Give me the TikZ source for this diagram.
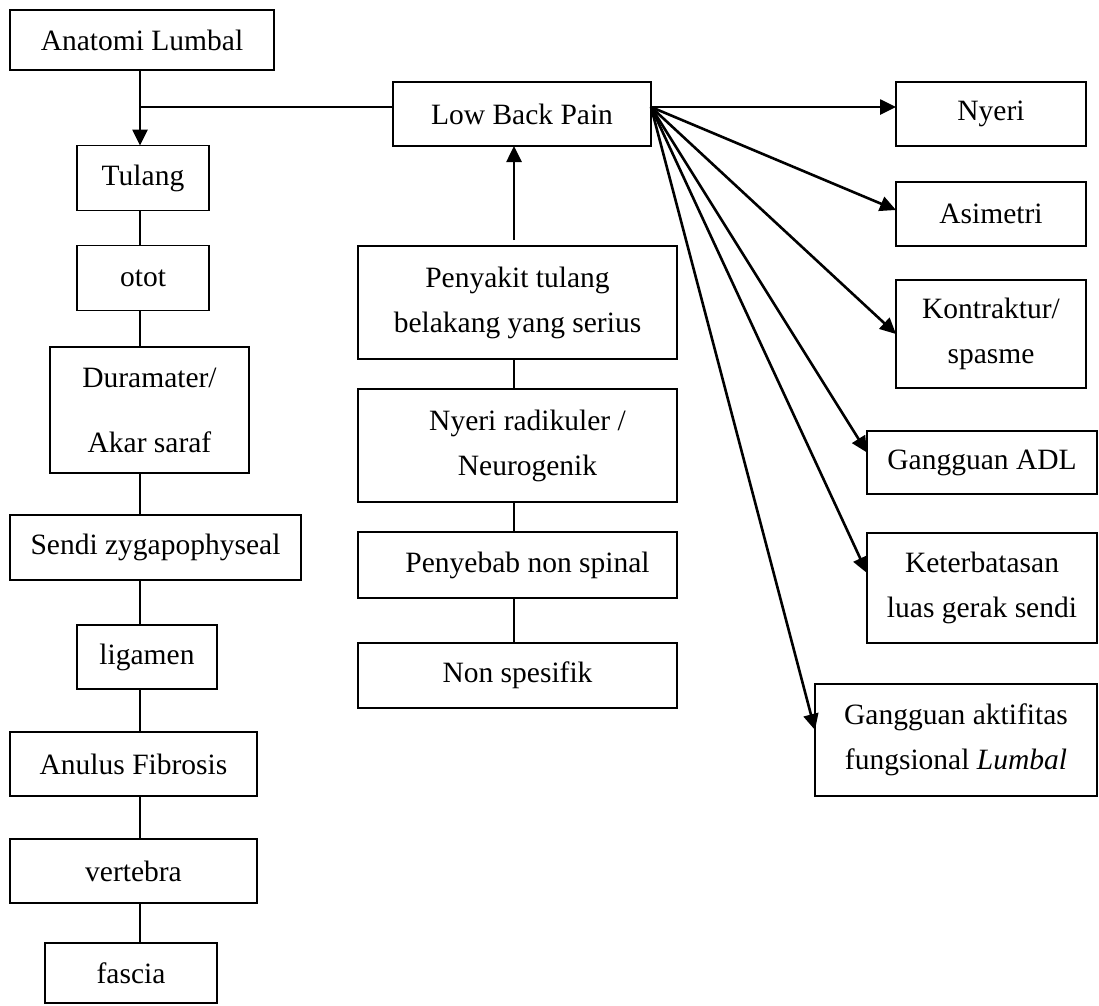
\documentclass[tikz,border=0pt]{standalone}
\usepackage{fontspec}
\setmainfont{Liberation Serif}
\usetikzlibrary{arrows.meta}

\begin{document}
\begin{tikzpicture}[x=1pt,y=-1pt,>={Triangle[length=16pt,width=15pt]},
  box/.style={draw,line width=1.6pt,inner sep=0pt,outer sep=0pt,align=center,font=\fontsize{29.5}{45}\selectfont},
  link/.style={line width=1.6pt},
  pijl/.style={->,line width=2.6pt}]
\useasboundingbox (0,0) rectangle (1099,1005);

% anatomi
\node[box,minimum width=264pt,minimum height=60pt] (anat) at (142,40) {Anatomi Lumbal};
\node[box,minimum width=132pt,minimum height=65pt] (tulang) at (143,178) {Tulang};
\node[box,minimum width=132pt,minimum height=65pt] (otot) at (143,278) {otot};
\node[box,minimum width=199pt,minimum height=126pt] (dura) at (149.5,410) {Duramater/\\[20pt]Akar saraf};
\node[box,minimum width=291pt,minimum height=65pt] (sendi) at (155.5,547.5) {Sendi zygapophyseal};
\node[box,minimum width=140pt,minimum height=64pt] (ligamen) at (147,657) {ligamen};
\node[box,minimum width=247pt,minimum height=64pt] (anulus) at (133.5,764) {Anulus Fibrosis};
\node[box,minimum width=247pt,minimum height=64pt] (vertebra) at (133.5,871) {vertebra};
\node[box,minimum width=172pt,minimum height=60pt] (fascia) at (131,973) {fascia};
\coordinate (spine) at (140,107);

% penyebab
\node[box,minimum width=258pt,minimum height=64pt] (lbp) at (522,114) {Low Back Pain};
\node[box,minimum width=319pt,minimum height=113pt] (penyakit) at (517.5,302.5) {Penyakit tulang\\belakang yang serius};
\node[box,minimum width=319pt,minimum height=113pt] (radikuler) at (517.5,445.5) {\hspace*{20pt}Nyeri radikuler /\\\hspace*{20pt}Neurogenik};
\node[box,minimum width=319pt,minimum height=66pt] (penyebab) at (517.5,565) {\hspace*{20pt}Penyebab non spinal};
\node[box,minimum width=319pt,minimum height=65pt] (nonspes) at (517.5,675.5) {Non spesifik};
\coordinate (mid) at (514,200);

% problematik
\node[box,minimum width=190pt,minimum height=64pt] (nyeri) at (991,114) {Nyeri};
\node[box,minimum width=190pt,minimum height=64pt] (asimetri) at (991,214) {Asimetri};
\node[box,minimum width=190pt,minimum height=108pt] (kontraktur) at (991,334) {Kontraktur/\\spasme};
\node[box,minimum width=230pt,minimum height=63pt] (adl) at (982,462.5) {Gangguan ADL};
\node[box,minimum width=230pt,minimum height=110pt] (terbatas) at (982,588) {Keterbatasan\\luas gerak sendi};
\node[box,minimum width=282pt,minimum height=112pt] (aktif) at (956,740) {Gangguan aktifitas\\fungsional \textit{Lumbal}};
\coordinate (fan) at ([yshift=7pt]lbp.east);

\draw[pijl] (anat.south -| spine) -- (tulang.north -| spine);
\draw[link] (spine) -- ([yshift=7pt]lbp.west);
\draw[link] (tulang.south -| spine) -- (otot.north -| spine);
\draw[link] (otot.south -| spine) -- (dura.north -| spine);
\draw[link] (dura.south -| spine) -- (sendi.north -| spine);
\draw[link] (sendi.south -| spine) -- (ligamen.north -| spine);
\draw[link] (ligamen.south -| spine) -- (anulus.north -| spine);
\draw[link] (anulus.south -| spine) -- (vertebra.north -| spine);
\draw[link] (vertebra.south -| spine) -- (fascia.north -| spine);

\draw[pijl,shorten <=6pt] (penyakit.north -| mid) -- (lbp.south -| mid);
\draw[link] (penyakit.south -| mid) -- (radikuler.north -| mid);
\draw[link] (radikuler.south -| mid) -- (penyebab.north -| mid);
\draw[link] (penyebab.south -| mid) -- (nonspes.north -| mid);

\draw[pijl] (fan) -- (fan -| nyeri.west);
\draw[pijl] (fan) -- ([yshift=4pt]asimetri.west);
\draw[pijl] (fan) -- (kontraktur.west);
\draw[pijl] (fan) -- ([yshift=10pt]adl.west);
\draw[pijl] (fan) -- ([yshift=15pt]terbatas.west);
\draw[pijl] (fan) -- ([yshift=10pt]aktif.west);
\end{tikzpicture}
\end{document}
